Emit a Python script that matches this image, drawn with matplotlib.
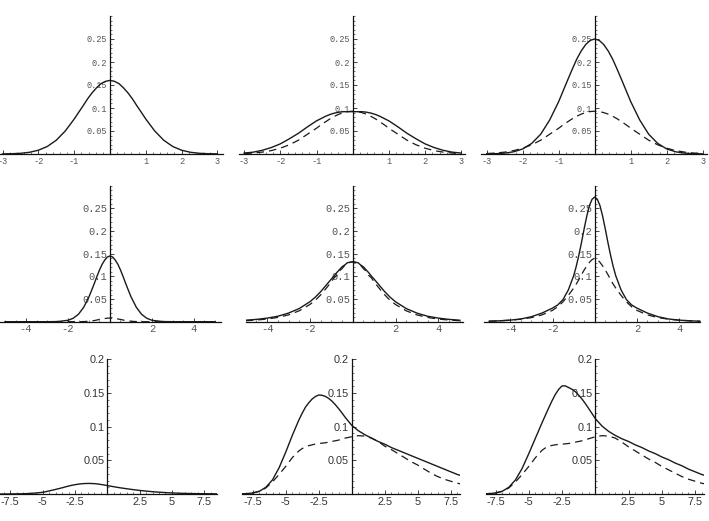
import numpy as np
import matplotlib
matplotlib.use("Agg")
import matplotlib.pyplot as plt
from matplotlib.ticker import MultipleLocator

# ---------------- dados ----------------
# linha 1 : x de -3 a 3
x_r1 = [-3, -2.75, -2.5, -2.25, -2, -1.75, -1.5, -1.25, -1, -0.875, -0.75, -0.625, -0.5, -0.375, -0.25, -0.125, 0,
        0.125, 0.25, 0.375, 0.5, 0.625, 0.75, 0.875, 1, 1.25, 1.5, 1.75, 2, 2.25, 2.5, 2.75, 3]
p1_solid = [0.0002, 0.0006, 0.0015, 0.0037, 0.0082, 0.0164, 0.030, 0.050, 0.076, 0.0906, 0.105, 0.120, 0.133, 0.144, 0.153, 0.158, 0.160,
            0.158, 0.153, 0.144, 0.133, 0.120, 0.105, 0.0906, 0.076, 0.050, 0.030, 0.0164, 0.0082, 0.0037, 0.0015, 0.0006, 0.0002]
p2_solid = [0.002, 0.004, 0.008, 0.014, 0.022, 0.033, 0.045, 0.059, 0.072, 0.077, 0.082, 0.086, 0.089, 0.091, 0.092, 0.092, 0.092,
            0.092, 0.092, 0.091, 0.089, 0.086, 0.082, 0.077, 0.072, 0.059, 0.045, 0.033, 0.022, 0.014, 0.008, 0.004, 0.002]
p2_dash = [0.001, 0.0021, 0.0041, 0.0074, 0.0126, 0.020, 0.030, 0.043, 0.056, 0.0634, 0.070, 0.0765, 0.082, 0.0867, 0.090, 0.0923, 0.093,
           0.0923, 0.090, 0.0867, 0.082, 0.0765, 0.070, 0.0634, 0.056, 0.043, 0.030, 0.020, 0.0126, 0.0074, 0.0041, 0.0021, 0.001]
p3_solid = [0.0002, 0.0007, 0.0019, 0.0048, 0.011, 0.023, 0.043, 0.074, 0.114, 0.1375, 0.161, 0.184, 0.206, 0.224, 0.238, 0.247, 0.250,
            0.247, 0.238, 0.224, 0.206, 0.184, 0.161, 0.1375, 0.114, 0.074, 0.043, 0.023, 0.011, 0.0048, 0.0019, 0.0007, 0.0002]
p3_dash = [0.001, 0.0021, 0.0041, 0.0074, 0.0126, 0.020, 0.030, 0.043, 0.056, 0.0634, 0.070, 0.0765, 0.082, 0.0867, 0.090, 0.0923, 0.093,
           0.0923, 0.090, 0.0867, 0.082, 0.0765, 0.070, 0.0634, 0.056, 0.043, 0.030, 0.020, 0.0126, 0.0074, 0.0041, 0.0021, 0.001]

# linha 2 : x de -5 a 5
x_r2 = [-5, -4.5, -4, -3.5, -3, -2.5, -2, -1.75, -1.5, -1.25, -1, -0.875, -0.75, -0.625, -0.5, -0.375, -0.25, -0.125, 0,
        0.125, 0.25, 0.375, 0.5, 0.625, 0.75, 0.875, 1, 1.25, 1.5, 1.75, 2, 2.5, 3, 3.5, 4, 4.5, 5]
p4_solid = [0, 0, 0, 0, 0, 0.0003, 0.0031, 0.0076, 0.0165, 0.032, 0.055, 0.0693, 0.084, 0.0995, 0.114, 0.1266, 0.136, 0.1428, 0.145,
            0.1428, 0.136, 0.1266, 0.114, 0.0995, 0.084, 0.0693, 0.055, 0.032, 0.0165, 0.0076, 0.0031, 0.0003, 0, 0, 0, 0, 0]
p4_dash = [0, 0, 0, 0, 0, 0, 0, 0, 0, 0.0003, 0.001, 0.0017, 0.0025, 0.0037, 0.005, 0.006, 0.007, 0.0078, 0.008,
           0.0078, 0.007, 0.006, 0.005, 0.0037, 0.0025, 0.0017, 0.001, 0.0003, 0, 0, 0, 0, 0, 0, 0, 0, 0]
p5_solid = [0.0033, 0.0051, 0.0079, 0.012, 0.019, 0.029, 0.044, 0.054, 0.066, 0.080, 0.094, 0.1005, 0.108, 0.1145, 0.121, 0.125, 0.130, 0.1312, 0.132,
            0.1312, 0.130, 0.125, 0.121, 0.1145, 0.108, 0.1005, 0.094, 0.080, 0.066, 0.054, 0.044, 0.029, 0.019, 0.012, 0.0079, 0.0051, 0.0033]
p5_dash = [0.0022, 0.0036, 0.0058, 0.0094, 0.015, 0.024, 0.038, 0.047, 0.059, 0.073, 0.088, 0.0965, 0.102, 0.1117, 0.117, 0.124, 0.127, 0.131, 0.132,
           0.131, 0.127, 0.124, 0.117, 0.1117, 0.102, 0.0965, 0.088, 0.073, 0.059, 0.047, 0.038, 0.024, 0.015, 0.0094, 0.0058, 0.0036, 0.0022]
p6_solid = [0.001, 0.002, 0.0035, 0.006, 0.011, 0.019, 0.030, 0.037, 0.049, 0.070, 0.101, 0.122, 0.147, 0.175, 0.205, 0.233, 0.256, 0.270, 0.275,
            0.270, 0.256, 0.233, 0.205, 0.175, 0.147, 0.122, 0.101, 0.070, 0.049, 0.037, 0.030, 0.019, 0.011, 0.006, 0.0035, 0.002, 0.001]
p6_dash = [0.001, 0.002, 0.0033, 0.0055, 0.009, 0.015, 0.025, 0.033, 0.044, 0.058, 0.074, 0.083, 0.093, 0.104, 0.114, 0.123, 0.131, 0.137, 0.140,
           0.137, 0.131, 0.123, 0.114, 0.104, 0.093, 0.083, 0.074, 0.058, 0.044, 0.033, 0.025, 0.015, 0.009, 0.0055, 0.0033, 0.002, 0.001]

# linha 3 : x de -8.5 a 8.5
x_r3 = [-8.5, -8, -7.5, -7, -6.5, -6, -5.5, -5, -4.5, -4, -3.75, -3.5, -3.25, -3, -2.75, -2.5, -2.25, -2, -1.75, -1.5,
        -1.25, -1, -0.75, -0.5, -0.25, 0, 0.5, 1, 1.5, 2, 2.5, 3, 3.5, 4, 4.5, 5, 5.5, 6, 6.5, 7, 7.5, 8, 8.5]
p7_solid = [0.0, 0.0, 0.0001, 0.0002, 0.0004, 0.0008, 0.0015, 0.0025, 0.0045, 0.0068, 0.008, 0.0092, 0.0105, 0.0118, 0.0129,
            0.0138, 0.0146, 0.0152, 0.0155, 0.0157, 0.0156, 0.0154, 0.0149, 0.0142, 0.0134, 0.0125, 0.0108, 0.0092, 0.0078,
            0.0065, 0.0053, 0.0043, 0.0034, 0.0027, 0.0021, 0.0016, 0.0012, 0.0009, 0.0007, 0.0005, 0.0004, 0.0003, 0.0002]
p8_solid = [0.0002, 0.0005, 0.0015, 0.004, 0.010, 0.021, 0.039, 0.062, 0.087, 0.110, 0.120, 0.129, 0.1355, 0.141, 0.1447,
            0.147, 0.1466, 0.145, 0.142, 0.138, 0.1328, 0.127, 0.1207, 0.114, 0.108, 0.102, 0.094, 0.088, 0.083,
            0.078, 0.074, 0.069, 0.065, 0.061, 0.057, 0.053, 0.049, 0.045, 0.041, 0.037, 0.033, 0.029, 0.026]
p8_dash = [0.0002, 0.0005, 0.0015, 0.004, 0.009, 0.018, 0.029, 0.041, 0.054, 0.064, 0.0675, 0.070, 0.0718, 0.073, 0.0742,
           0.075, 0.0755, 0.076, 0.077, 0.078, 0.079, 0.080, 0.0815, 0.083, 0.084, 0.085, 0.0866, 0.086, 0.083,
           0.078, 0.071, 0.066, 0.060, 0.054, 0.048, 0.043, 0.037, 0.031, 0.026, 0.022, 0.019, 0.016, 0.014]
p9_solid = [0.0002, 0.0005, 0.0015, 0.004, 0.010, 0.021, 0.038, 0.060, 0.083, 0.106, 0.117, 0.128, 0.1385, 0.148, 0.1555,
            0.1605, 0.1605, 0.158, 0.1555, 0.152, 0.1468, 0.141, 0.1343, 0.127, 0.1195, 0.112, 0.101, 0.093, 0.087,
            0.082, 0.078, 0.073, 0.069, 0.064, 0.060, 0.055, 0.051, 0.046, 0.042, 0.037, 0.033, 0.029, 0.026]
p9_dash = [0.0002, 0.0005, 0.0015, 0.004, 0.009, 0.018, 0.029, 0.041, 0.054, 0.065, 0.0685, 0.071, 0.0722, 0.073, 0.0737,
           0.074, 0.0745, 0.075, 0.076, 0.077, 0.078, 0.079, 0.0805, 0.082, 0.0835, 0.085, 0.0866, 0.086, 0.083,
           0.077, 0.070, 0.064, 0.058, 0.052, 0.047, 0.041, 0.036, 0.031, 0.026, 0.022, 0.019, 0.016, 0.014]

# rótulos dos eixos
xt_r1 = [-3, -2, -1, 1, 2, 3]
xl_r1 = ['-3', '-2', '-1', '1', '2', '3']
xt_r2 = [-4, -2, 2, 4]
xl_r2 = ['-4', '-2', '2', '4']
xt_r3 = [-7.5, -5, -2.5, 2.5, 5, 7.5]
xl_r3 = ['-7.5', '-5', '-2.5', '2.5', '5', '7.5']
yt_r12 = [0.05, 0.1, 0.15, 0.2, 0.25]
yl_r12 = ['0.05', '0.1', '0.15', '0.2', '0.25']
yt_r3 = [0.05, 0.1, 0.15, 0.2]
yl_r3 = ['0.05', '0.1', '0.15', '0.2']

W, H = 709, 521
fig = plt.figure(figsize=(W / 100, H / 100), dpi=100)


def painel(origem, base, unidade, xlim, ymax, altura, xt, xl, xminor, yt, yl, fonte, fsize, fcor):
    # origem/base em pixels : onde fica o ponto (0,0)
    esq = origem + xlim[0] * unidade
    larg = (xlim[1] - xlim[0]) * unidade
    ax = fig.add_axes([esq / W, (H - base) / H, larg / W, altura / H])
    ax.set_xlim(*xlim)
    ax.set_ylim(0, ymax)
    ax.patch.set_visible(False)
    for s in ['top', 'right']:
        ax.spines[s].set_visible(False)
    ax.spines['left'].set_position(('data', 0))
    for s in ['left', 'bottom']:
        ax.spines[s].set_linewidth(0.9)
        ax.spines[s].set_color('#111111')
    ax.set_xticks(xt, xl)
    ax.set_yticks(yt, yl)
    ax.xaxis.set_minor_locator(MultipleLocator(xminor))
    ax.yaxis.set_minor_locator(MultipleLocator(0.01))
    ax.tick_params(which='major', direction='in', length=3, width=0.6, color='#222222', pad=2,
                   labelsize=fsize, labelcolor=fcor)
    ax.tick_params(which='minor', direction='in', length=1.5, width=0.5, color='#444444')
    for lab in ax.get_xticklabels() + ax.get_yticklabels():
        lab.set_family(fonte)
    return ax


def curvas(ax, x, solido, tracejado=None):
    ax.plot(x, solido, color='#1a1a1a', lw=1.0, clip_on=True)
    if tracejado is not None:
        ax.plot(x, tracejado, color='#1a1a1a', lw=0.9, dashes=(6, 4), clip_on=True)


mono = 'Liberation Mono'
sans = 'Liberation Sans'
cinza = '#555555'

# linha 1
a1 = painel(110, 154, 35.8, (-3.08, 3.15), 0.3, 138, xt_r1, xl_r1, 0.2, yt_r12, yl_r12, mono, 6.2, cinza)
curvas(a1, x_r1, p1_solid)
a2 = painel(352.7, 154, 36.2, (-3.14, 3.1), 0.3, 138, xt_r1, xl_r1, 0.2, yt_r12, yl_r12, mono, 6.2, cinza)
curvas(a2, x_r1, p2_solid, p2_dash)
a3 = painel(594.7, 154, 36.0, (-3.15, 3.12), 0.3, 138, xt_r1, xl_r1, 0.2, yt_r12, yl_r12, mono, 6.2, cinza)
curvas(a3, x_r1, p3_solid, p3_dash)

# linha 2
a4 = painel(110, 321.7, 21.0, (-5.24, 5.3), 0.3, 136, xt_r2, xl_r2, 0.5, yt_r12, yl_r12, mono, 7.5, cinza)
curvas(a4, x_r2, p4_solid, p4_dash)
a5 = painel(352.7, 321.7, 21.4, (-4.98, 5.16), 0.3, 136, xt_r2, xl_r2, 0.5, yt_r12, yl_r12, mono, 7.5, cinza)
curvas(a5, x_r2, p5_solid, p5_dash)
a6 = painel(594.7, 321.7, 21.1, (-5.25, 5.0), 0.3, 136, xt_r2, xl_r2, 0.5, yt_r12, yl_r12, mono, 7.5, cinza)
curvas(a6, x_r2, p6_solid, p6_dash)

# linha 3
a7 = painel(107.3, 494, 12.93, (-8.3, 8.45), 0.2, 134.7, xt_r3, xl_r3, 0.5, yt_r3, yl_r3, sans, 7.8, '#333333')
curvas(a7, x_r3, p7_solid)
a8 = painel(351.7, 494, 13.2, (-8.3, 8.2), 0.2, 134.7, xt_r3, xl_r3, 0.5, yt_r3, yl_r3, sans, 7.8, '#333333')
curvas(a8, x_r3, p8_solid, p8_dash)
a9 = painel(595.3, 494, 13.3, (-8.2, 8.2), 0.2, 134.7, xt_r3, xl_r3, 0.5, yt_r3, yl_r3, sans, 7.8, '#333333')
curvas(a9, x_r3, p9_solid, p9_dash)

fig.savefig('out.png', dpi=100)
